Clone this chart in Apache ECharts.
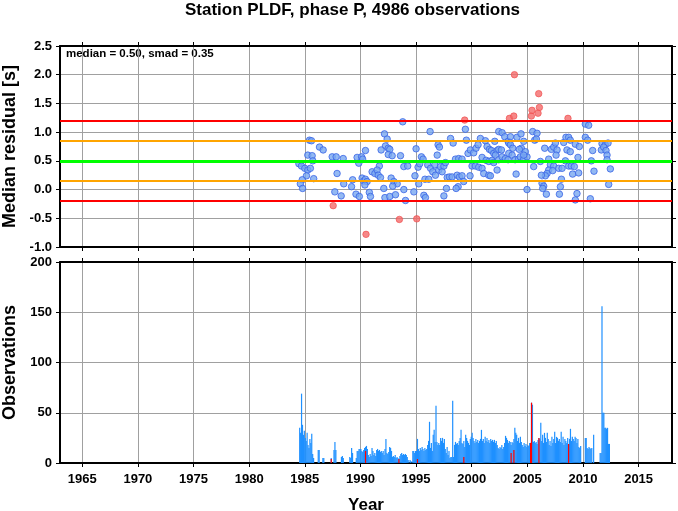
<!DOCTYPE html>
<html><head><meta charset="utf-8">
<script src="https://cdn.jsdelivr.net/npm/echarts@6/dist/echarts.min.js"></script>
<style>html,body{margin:0;padding:0;background:#fff}#c{width:678px;height:511px}</style>
</head><body><div id="c"></div>
<script>
const titleText = 'Station PLDF, phase P, 4986 observations';
const statsText = 'median = 0.50, smad = 0.35';
const yearTicks = [1965, 1970, 1975, 1980, 1985, 1990, 1995, 2000, 2005, 2010, 2015];
const refLevels = [1.2, 0.85, 0.5, 0.15, -0.2];

// monthly median residuals inside the 2-smad band
const residualYears = [
1985.42,1985.60,1986.32,1986.65,1985.27,1985.66,1985.72,1984.47,1984.70,1985.00,1985.27,1985.50,1985.15,1984.77,1984.60,1984.80,1985.80,
1987.46,1987.82,1988.45,1987.90,1987.70,1988.27,1988.50,1989.20,1989.30,1989.60,1989.90,1989.70,1990.10,1989.85,1990.20,1990.45,
1990.15,1990.30,1990.45,1990.60,1990.40,1990.80,1990.90,1991.05,1991.30,
1993.80,1992.16,1992.40,1992.25,1992.50,1991.86,1992.64,1992.50,1992.85,1991.70,1991.50,1991.60,1991.80,1992.76,1993.00,1993.30,
1992.90,1992.10,1992.20,1992.64,1993.15,1993.90,1994.05,1993.60,1993.90,1994.25,1995.00,1994.90,1995.24,1994.80,1995.70,1995.84,
1995.18,1995.33,1995.48,1995.63,1995.80,1996.14,1996.05,1996.30,1996.50,1996.68,1996.90,1996.26,1996.98,1997.10,1996.74,1997.04,
1997.19,1997.34,1997.50,1997.64,1997.80,1998.00,1998.24,1997.73,1997.50,1998.10,1998.33,
1999.43,1999.52,1998.54,1998.83,1999.13,1998.69,1998.90,1999.13,1999.28,1998.78,1998.60,1999.85,1999.67,1999.88,2000.18,2000.39,
2000.57,2000.78,2000.03,2000.33,2000.63,2000.93,2001.08,2001.53,2001.68,2000.93,2001.29,2001.53,2001.83,2001.23,2001.38,2001.59,
2001.77,2001.98,2002.07,2002.28,2002.43,2002.67,2002.13,2002.43,2002.73,2003.03,2003.27,2002.28,2001.98,2002.43,2002.73,2002.97,
2003.27,2003.48,2003.33,2003.48,2003.69,2003.33,2003.63,2003.99,2003.90,2004.20,2004.37,2004.67,2004.97,2004.07,2004.43,2004.67,
2004.46,2004.28,2004.82,2004.67,2005.48,2005.66,2005.57,2004.97,
2005.87,2005.81,2006.56,2007.16,2007.37,2007.67,2007.52,2007.58,2006.92,2006.17,2007.07,2007.37,2007.82,2008.12,2008.42,2008.72,
2008.95,2009.22,2009.55,2008.27,2008.47,2008.71,2008.86,2008.56,2008.86,2009.31,2009.67,2006.92,2006.77,2007.28,2006.62,2006.26,
2008.06,2007.97,2006.32,2006.47,2006.38,2006.71,2007.88,2009.07,2009.61,2009.31,2009.46,2010.21,2010.51,2010.21,2010.42,2010.87,
2010.75,2010.99,2010.66,2011.71,2012.00,2012.25,2011.65,2011.86,2012.07,2012.16,2012.16,2012.46,2012.31
];
const residualValues = [
0.86,0.85,0.74,0.69,0.60,0.59,0.50,0.45,0.41,0.37,0.34,0.37,0.24,0.17,0.10,0.02,0.19,
0.57,0.57,0.54,0.28,-0.04,-0.11,0.10,0.05,0.17,-0.08,-0.12,0.56,0.57,0.46,0.53,0.68,
0.20,0.15,0.18,0.14,0.08,-0.05,-0.12,0.31,0.28,
1.18,0.97,0.88,0.76,0.72,0.69,0.70,0.61,0.59,0.41,0.34,0.25,0.21,0.20,0.14,0.10,
0.06,0.02,-0.14,-0.12,-0.09,0.00,-0.19,0.59,0.40,0.41,0.71,0.24,0.10,-0.04,-0.10,-0.14,
0.39,0.45,0.57,0.53,0.18,0.18,0.43,0.37,0.31,0.43,0.60,1.01,0.78,0.74,0.25,0.34,
0.40,0.31,0.41,0.47,0.21,0.22,0.22,0.02,-0.11,0.89,0.81,
1.05,0.86,0.53,0.54,0.53,0.25,0.22,0.24,0.14,0.05,0.02,0.24,0.63,0.69,0.64,0.72,
0.78,0.89,0.41,0.41,0.39,0.37,0.28,0.25,0.24,0.56,0.51,0.49,0.51,0.85,0.75,0.70,
0.68,0.63,0.84,0.68,0.70,0.69,0.60,0.52,0.57,0.54,0.52,0.34,0.47,1.01,0.99,0.92,
0.84,0.92,0.81,0.78,0.72,0.63,0.60,0.27,0.52,0.53,0.57,0.53,0.57,0.91,0.97,0.84,
0.72,0.70,0.66,0.60,1.01,0.86,0.40,0.00,
0.98,0.88,0.72,0.70,0.74,0.69,0.81,0.60,0.53,0.49,0.43,0.41,0.37,0.37,0.50,0.41,
0.41,0.40,0.56,0.82,0.91,0.91,0.86,0.69,0.66,0.79,0.75,0.34,0.28,0.33,0.24,0.25,
0.18,0.05,0.11,0.06,0.02,-0.08,-0.08,0.27,0.29,-0.18,-0.07,1.14,1.12,0.91,0.86,0.68,
0.50,0.32,-0.16,0.80,0.78,0.81,0.69,0.74,0.68,0.60,0.52,0.36,0.09
];
// monthly medians outside the band
const outlierYears = [1987.55,1990.50,1993.50,1995.06,1999.37,2003.39,2003.78,2003.84,2005.36,2005.42,2006.02,2006.08,2005.96,2008.65];
const outlierValues = [-0.28,-0.78,-0.52,-0.51,1.21,1.24,1.28,2.00,1.28,1.38,1.67,1.43,1.33,1.24];

// observations per month, one row per year starting 1984
const obsFirstYear = 1984;
const obsMonthly = [
[0,0,0,0,0,0,35,30,69,38,28,32],
[25,22,30,18,15,24,20,29,9,5,0,0],
[0,0,13,13,0,0,0,5,5,0,0,0],
[0,0,0,0,5,0,0,13,21,13,0,0],
[0,0,0,6,7,5,0,0,0,0,0,0],
[6,5,15,10,0,0,0,5,12,12,14,14],
[14,12,11,13,15,16,17,14,8,6,9,7],
[15,12,8,10,7,13,14,12,13,11,12,10],
[12,8,14,24,10,9,11,16,15,12,6,7],
[6,8,5,6,5,4,7,9,10,8,9,8],
[9,8,6,3,0,3,2,0,12,12,10,12],
[12,24,14,12,15,13,16,14,12,15,13,14],
[18,22,41,15,20,12,28,33,21,57,21,18],
[20,18,25,22,25,20,24,14,10,16,8,12],
[5,6,6,62,6,18,21,19,20,18,22,25],
[33,20,19,22,16,28,25,22,20,18,24,26],
[30,25,22,20,24,21,23,20,22,24,33,22],
[24,20,26,22,25,21,23,20,24,22,23,21],
[23,20,22,18,15,14,16,15,18,14,16,20],
[27,25,23,20,22,21,18,21,20,24,35,30],
[28,22,25,20,26,21,18,16,20,17,19,16],
[18,17,20,20,60,58,21,22,20,21,19,23],
[25,24,40,22,28,20,30,25,21,30,24,18],
[22,17,26,20,24,31,20,26,25,22,24,21],
[31,20,26,18,24,22,20,25,19,24,34,22],
[26,24,22,26,25,20,24,16,15,17,0,0],
[0,0,25,25,15,14,16,15,14,15,0,28],
[0,0,0,0,0,0,10,10,156,50,50,35],
[35,34,35,19,19,0,0,0,0,0,0,0]
];
// observations in months whose median is an outlier
const outlierObsYear  = [1987,1990,1993,1995,1999,2003,2003,2005,2005,2006,2008];
const outlierObsMonth = [5,6,6,2,4,7,10,4,5,1,9];
const outlierObsCount = [4,12,4,4,6,10,13,20,60,25,19];

const FONT = '"Liberation Sans", Arial, Helvetica, sans-serif';
const monthPos = (y, m) => y + (m - 0.5) / 12;

const obsData = [];
obsMonthly.forEach((row, i) => row.forEach((v, j) => { if (v > 0) obsData.push([monthPos(obsFirstYear + i, j + 1), v]); }));
const obsRedData = outlierObsYear.map((y, i) => [monthPos(y, outlierObsMonth[i]), outlierObsCount[i]]);
const inData = residualYears.map((y, i) => [y, residualValues[i]]);
const outData = outlierYears.map((y, i) => [y, outlierValues[i]]);

const refStyles = [
  {color: '#ff0000', width: 2}, {color: '#ffa500', width: 2}, {color: '#00ff00', width: 3},
  {color: '#ffa500', width: 2}, {color: '#ff0000', width: 2}
];

const axisLine = {show: true, onZero: false, lineStyle: {color: '#000', width: 2}};
const tick = {show: true, inside: false, length: 4, lineStyle: {color: '#000', width: 1}};
const grid = {show: true, lineStyle: {color: '#a0a0a0', width: 1}};
const labelStyle = {color: '#000', fontFamily: FONT, fontWeight: 'bold', fontSize: 13};
const nameStyle = {color: '#000', fontFamily: FONT, fontWeight: 'bold', fontSize: 18};

function xAx(gi, pos, labels, extra) {
  return Object.assign({
    type: 'value', gridIndex: gi, position: pos, min: 1963, max: 2018,
    axisLine: axisLine,
    axisTick: Object.assign({}, tick, {customValues: yearTicks}),
    axisLabel: Object.assign({show: labels, margin: 10, customValues: yearTicks, formatter: v => String(v)}, labelStyle),
    splitLine: pos === 'bottom' ? grid : {show: false}
  }, extra || {});
}
function yAx(gi, pos, min, max, interval, labels, fmt, extra) {
  return Object.assign({
    type: 'value', gridIndex: gi, position: pos, min: min, max: max, interval: interval,
    axisLine: axisLine, axisTick: tick,
    axisLabel: Object.assign({show: labels, margin: 8, formatter: fmt}, labelStyle),
    splitLine: pos === 'left' ? grid : {show: false}
  }, extra || {});
}

const option = {
  animation: false,
  backgroundColor: '#fff',
  grid: [
    {left: 60, right: 6, top: 46, height: 201, containLabel: false, outerBoundsMode: 'none'},
    {left: 60, right: 6, top: 262, height: 201, containLabel: false, outerBoundsMode: 'none'}
  ],
  xAxis: [
    xAx(0, 'bottom', false),
    xAx(0, 'top', false),
    xAx(1, 'bottom', true, {name: 'Year', nameLocation: 'middle', nameGap: 34,
      nameTextStyle: Object.assign({}, nameStyle, {fontSize: 17})}),
    xAx(1, 'top', false)
  ],
  yAxis: [
    yAx(0, 'left', -1, 2.5, 0.5, true, v => v.toFixed(1),
      {name: 'Median residual [s]', nameLocation: 'middle', nameGap: 40, nameTextStyle: nameStyle}),
    yAx(0, 'right', -1, 2.5, 0.5, false, null),
    yAx(1, 'left', 0, 200, 50, true, v => String(v),
      {name: 'Observations', nameLocation: 'middle', nameGap: 40, nameTextStyle: nameStyle}),
    yAx(1, 'right', 0, 200, 50, false, null)
  ],
  graphic: [
    {type: 'text', left: 185, top: 2, style: {text: titleText, fill: '#000', font: 'bold 17px ' + FONT}},
    {type: 'text', left: 66, top: 48, style: {text: statsText, fill: '#000', font: 'bold 11.5px ' + FONT}}
  ],
  series: [
    {
      type: 'line', xAxisIndex: 0, yAxisIndex: 0, data: [], z: 2, silent: true,
      markLine: {
        silent: true, symbol: ['none', 'none'], label: {show: false}, animation: false,
        data: refLevels.map((v, i) => ({yAxis: v, lineStyle: Object.assign({type: 'solid'}, refStyles[i])}))
      }
    },
    {
      type: 'scatter', xAxisIndex: 0, yAxisIndex: 0, data: inData, symbolSize: 6.5, z: 4,
      itemStyle: {color: '#78a8f0', borderColor: '#3a64e6', borderWidth: 1}
    },
    {
      type: 'scatter', xAxisIndex: 0, yAxisIndex: 0, data: outData, symbolSize: 6.5, z: 4,
      itemStyle: {color: '#f46a6a', borderColor: '#f04848', borderWidth: 0.8}
    },
    {
      type: 'bar', xAxisIndex: 2, yAxisIndex: 2, data: obsData, barWidth: 1.2, barGap: '-100%', z: 3,
      itemStyle: {color: '#1e90ff'}
    },
    {
      type: 'bar', xAxisIndex: 2, yAxisIndex: 2, data: obsRedData, barWidth: 1.2, barGap: '-100%', z: 4,
      itemStyle: {color: '#ff0000'}
    }
  ]
};
const chart = echarts.init(document.getElementById('c'), null, {renderer: 'canvas'});
chart.setOption(option);
</script></body></html>
